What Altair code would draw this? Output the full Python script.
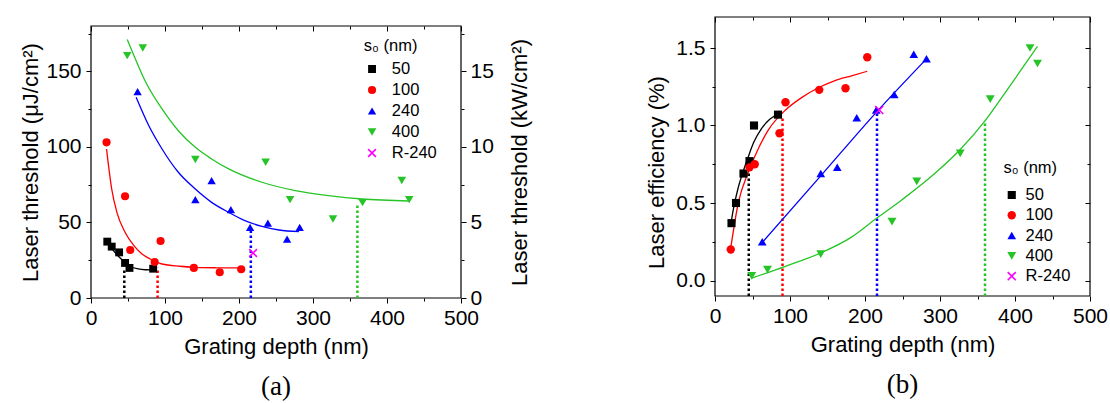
import altair as alt
import pandas as pd

# ------------------------------------------------------------------ data
SERIES = ["50", "100", "240", "400", "R-240"]
COLORS = ["#000000", "#ff0000", "#0000ff", "#26c426", "#ff00ff"]
X_PATH = "M-1,-0.75L0.75,1L1,0.75L-0.75,-1ZM-1,0.75L-0.75,1L1,-0.75L0.75,-1Z"
SHAPES = ["square", "circle", "triangle-up", "triangle-down", X_PATH]
SIZES_A = [62, 78, 150, 150, 150]
SIZES_B = [66, 84, 150, 150, 160]

# measured points (grating depth in nm)
depth_50 = [22, 28, 38, 46, 52, 84]
thr_50 = [37.3, 34.0, 30.2, 23.2, 19.9, 19.4]
eff_50 = [0.37, 0.50, 0.69, 0.77, 1.00, 1.07]

depth_100 = [21, 46, 53, 86, 94, 139, 174, 203]
thr_100 = [103.0, 67.3, 31.8, 23.8, 37.7, 19.9, 17.0, 19.0]
eff_100 = [0.20, 0.73, 0.75, 0.95, 1.15, 1.23, 1.24, 1.44]

depth_240 = [63, 141, 163, 189, 215, 239, 265, 282]
thr_240 = [136.6, 65.1, 77.7, 58.5, 46.8, 49.6, 39.0, 46.8]
eff_240 = [0.25, 0.69, 0.73, 1.05, 1.10, 1.20, 1.46, 1.43]

depth_400 = [49, 70, 141, 236, 269, 327, 367, 420, 430]
thr_400 = [160.4, 165.4, 91.6, 89.8, 65.1, 52.3, 63.1, 77.7, 65.1]
eff_400 = [0.03, 0.07, 0.17, 0.38, 0.64, 0.82, 1.17, 1.50, 1.40]

depth_r240 = [219]
thr_r240 = [29.8]
eff_r240 = [1.10]

# fitted curves
fit_thr_50_x = [22, 28, 37, 46, 53, 64, 73, 83]
fit_thr_50_y = [37.3, 32.9, 27.6, 23.6, 21.0, 19.2, 18.7, 18.6]
fit_thr_100_x = [21, 28, 35, 46, 58, 69, 80, 96, 120, 141, 170, 203]
fit_thr_100_y = [98.6, 72.1, 56.7, 43.5, 34.7, 29.1, 25.8, 22.5, 21.0, 20.3, 20.0, 19.9]
fit_thr_240_x = [61, 78, 96, 118, 141, 163, 186, 208, 231, 254, 281]
fit_thr_240_y = [132.8, 114.1, 98.6, 83.2, 72.1, 63.3, 56.7, 51.2, 47.4, 45.0, 43.9]
fit_thr_400_x = [49, 60, 73, 96, 118, 141, 163, 186, 231, 276, 321, 366, 430]
fit_thr_400_y = [171, 158.1, 143.8, 125.1, 110.7, 99.7, 92.0, 85.4, 76.6, 71.1, 67.8, 65.5, 64.2]

fit_eff_50_x = [21, 24.5, 31, 38, 44.5, 51.5, 62, 73, 83]
fit_eff_50_y = [0.36, 0.46, 0.60, 0.71, 0.80, 0.89, 0.98, 1.04, 1.07]
fit_eff_100_x = [21, 31, 44.5, 53, 71, 94, 115.5, 138.5, 160, 182, 203]
fit_eff_100_y = [0.21, 0.50, 0.70, 0.80, 0.97, 1.10, 1.18, 1.245, 1.29, 1.32, 1.35]
fit_eff_240_x = [62, 141, 215, 282]
fit_eff_240_y = [0.24, 0.675, 1.085, 1.43]
fit_eff_400_x = [49, 93, 142, 182, 215, 249, 293, 326, 360, 391, 430]
fit_eff_400_y = [0.015, 0.09, 0.18, 0.28, 0.40, 0.52, 0.69, 0.84, 1.03, 1.24, 1.51]

# optimum depths (dotted verticals)
opt_series = ["50", "100", "240", "400"]
opt_depth = [45, 90, 216, 360]
opt_thr_top = [19, 20, 46, 62]
opt_eff_top = [0.77, 1.06, 1.08, 1.03]

# axes
DEPTH_DOMAIN = [0, 500]
THR_DOMAIN = [0, 180]
KW_DOMAIN = [0, 18]
EFF_DOMAIN = [-0.1, 1.7]
X_MAJOR = [0, 100, 200, 300, 400, 500]
X_MINOR = [50, 150, 250, 350, 450]
THR_MAJOR = [0, 50, 100, 150]
THR_MINOR = [25, 75, 125, 175]
KW_MAJOR = [0, 5, 10, 15]
KW_MINOR = [2.5, 7.5, 12.5, 17.5]
EFF_MAJOR = [0.0, 0.5, 1.0, 1.5]
EFF_MINOR = [0.25, 0.75, 1.25]

# ------------------------------------------------------------------ tables
def long_table(groups):
    rows = []
    for s, xs, ys in groups:
        for x, y in zip(xs, ys):
            rows.append({"depth": x, "value": y, "series": s})
    return pd.DataFrame(rows)

thr_pts = long_table([("50", depth_50, thr_50), ("100", depth_100, thr_100),
                      ("240", depth_240, thr_240), ("400", depth_400, thr_400),
                      ("R-240", depth_r240, thr_r240)])
eff_pts = long_table([("50", depth_50, eff_50), ("100", depth_100, eff_100),
                      ("240", depth_240, eff_240), ("400", depth_400, eff_400),
                      ("R-240", depth_r240, eff_r240)])
thr_fit = long_table([("50", fit_thr_50_x, fit_thr_50_y), ("100", fit_thr_100_x, fit_thr_100_y),
                      ("240", fit_thr_240_x, fit_thr_240_y), ("400", fit_thr_400_x, fit_thr_400_y)])
eff_fit = long_table([("50", fit_eff_50_x, fit_eff_50_y), ("100", fit_eff_100_x, fit_eff_100_y),
                      ("240", fit_eff_240_x, fit_eff_240_y), ("400", fit_eff_400_x, fit_eff_400_y)])
opt_thr = pd.DataFrame({"depth": opt_depth, "lo": [THR_DOMAIN[0]] * 4, "hi": opt_thr_top, "series": opt_series})
opt_eff = pd.DataFrame({"depth": opt_depth, "lo": [EFF_DOMAIN[0]] * 4, "hi": opt_eff_top, "series": opt_series})

def frame_table(xd, yd):
    return pd.DataFrame({"x0": [xd[0]], "x1": [xd[1]], "y0": [yd[0]], "y1": [yd[1]]})

frame_thr = frame_table(DEPTH_DOMAIN, THR_DOMAIN)
frame_kw = frame_table(DEPTH_DOMAIN, KW_DOMAIN)
frame_eff = frame_table(DEPTH_DOMAIN, EFF_DOMAIN)

# ------------------------------------------------------------------ styling helpers
FONT = "Liberation Sans"
A_W, A_H = 370, 281
A_INSET = 9                     # top of panel (a) frame below panel (b) frame
A_RANGE = [A_H, A_INSET]
B_W, B_H = 375, 279


def axis(orient, values, tick, labels=False, title=None, offset=0, **extra):
    kw = dict(orient=orient, values=values, tickSize=tick, labels=labels, domain=False,
              grid=False, tickColor="black", tickWidth=1, offset=offset)
    if labels:
        kw.update(labelFont=FONT, labelFontSize=21, labelColor="black",
                  labelFlush=False, labelOverlap=False)
    if title:
        kw.update(title=title, titleFont=FONT, titleFontSize=22,
                  titleFontWeight="normal", titleColor="black")
    else:
        kw["title"] = None
    kw.update(extra)
    return alt.Axis(**kw)


def legend(x, y, label_offset, title_pad, row_pad):
    return alt.Legend(orient="none", legendX=x, legendY=y, title="s₀ (nm)",
                      titleFont=FONT, titleFontSize=16.5, titleFontWeight="normal",
                      titleColor="black", titlePadding=title_pad,
                      labelFont=FONT, labelFontSize=16.5, labelColor="black",
                      labelOffset=label_offset, clipHeight=19,
                      rowPadding=row_pad, padding=0)


def per_series(df, mark, yscale, x_axis, y_axis, y_field, y2_field=None, **mark_kw):
    """One layer per series with a fixed colour (no colour scale -> no extra legend)."""
    layers = []
    for i, s in enumerate(opt_series):
        enc = dict(
            x=alt.X("depth:Q", scale=sx, axis=x_axis if i == 0 else None),
            y=alt.Y(f"{y_field}:Q", scale=yscale, axis=y_axis if i == 0 else None),
        )
        if y2_field:
            enc["y2"] = f"{y2_field}:Q"
        base = alt.Chart(df).transform_filter(alt.datum.series == s)
        if mark == "rule":
            layers.append(base.mark_rule(color=COLORS[i], **mark_kw).encode(**enc))
        else:
            layers.append(base.mark_line(color=COLORS[i], **mark_kw).encode(**enc))
    return layers


sx = alt.Scale(domain=DEPTH_DOMAIN, nice=False, zero=False)
color_scale = alt.Scale(domain=SERIES, range=COLORS)
shape_scale = alt.Scale(domain=SERIES, range=SHAPES)

caption_kw = dict(orient="bottom", anchor="middle", font="Liberation Serif",
                  fontSize=27, fontWeight="normal", color="black", baseline="top", offset=17)
rule_kw = dict(strokeWidth=2.5, strokeDash=[2.5, 2.5])
line_kw = dict(strokeWidth=1.3, interpolate="monotone")

# ------------------------------------------------------------------ panel (a)
syA = alt.Scale(domain=THR_DOMAIN, range=A_RANGE, nice=False, zero=False)
skA = alt.Scale(domain=KW_DOMAIN, range=A_RANGE, nice=False, zero=False)
legA = legend(272.8, 21, 11.5, 5, 2)

a_frame = alt.Chart(frame_thr).mark_rect(fillOpacity=0, stroke="black", strokeWidth=1.2).encode(
    x=alt.X("x0:Q", scale=sx, axis=axis("bottom", X_MAJOR, 5, labels=True,
                                        title="Grating depth (nm)", labelPadding=4, titlePadding=8)),
    x2="x1:Q",
    y=alt.Y("y0:Q", scale=syA, axis=axis("left", THR_MAJOR, 5, labels=True,
                                         title="Laser threshold (μJ/cm²)", labelPadding=5, titlePadding=3)),
    y2="y1:Q",
)
a_rules = per_series(opt_thr, "rule", syA, axis("bottom", X_MINOR, 3), axis("left", THR_MINOR, 3),
                     "lo", "hi", **rule_kw)
a_lines = per_series(thr_fit, "line", syA, axis("top", X_MAJOR, 5, offset=-(A_INSET + 5)), None,
                     "value", **line_kw)
a_kw = alt.Chart(frame_kw).mark_rule(opacity=0).encode(
    x=alt.X("x1:Q", scale=sx, axis=axis("top", X_MINOR, 3, offset=-(A_INSET + 3))),
    y=alt.Y("y0:Q", scale=skA, axis=axis("right", KW_MAJOR, 5, labels=True,
                                         title="Laser threshold (kW/cm²)", titleAngle=270,
                                         titleBaseline="top", labelPadding=4, titlePadding=16)),
    y2="y1:Q",
)
a_kw_minor = alt.Chart(frame_kw).mark_rule(opacity=0).encode(
    x=alt.X("x1:Q", scale=sx, axis=None),
    y=alt.Y("y0:Q", scale=skA, axis=axis("right", KW_MINOR, 3)),
    y2="y1:Q",
)
a_points = alt.Chart(thr_pts).mark_point(filled=True, opacity=1).encode(
    x=alt.X("depth:Q", scale=sx, axis=None),
    y=alt.Y("value:Q", scale=syA, axis=None),
    color=alt.Color("series:N", scale=color_scale, legend=legA),
    shape=alt.Shape("series:N", scale=shape_scale, legend=legA),
    size=alt.Size("series:N", scale=alt.Scale(domain=SERIES, range=SIZES_A), legend=legA),
)
panel_a = alt.layer(a_frame, *a_rules, *a_lines, a_kw, a_kw_minor, a_points).resolve_scale(
    y="independent").resolve_axis(x="independent", y="independent").properties(
    width=A_W, height=A_H, title=alt.TitleParams(text="(a)", **caption_kw))

# ------------------------------------------------------------------ panel (b)
syB = alt.Scale(domain=EFF_DOMAIN, nice=False, zero=False)
legB = legend(288.5, 143, 5.5, 9, 1.3)

b_frame = alt.Chart(frame_eff).mark_rect(fillOpacity=0, stroke="black", strokeWidth=1.2).encode(
    x=alt.X("x0:Q", scale=sx, axis=axis("bottom", X_MAJOR, 5, labels=True,
                                        title="Grating depth (nm)", labelPadding=4, titlePadding=8)),
    x2="x1:Q",
    y=alt.Y("y0:Q", scale=syB, axis=axis("left", EFF_MAJOR, 5, labels=True, format=".1f",
                                         title="Laser efficiency (%)", labelPadding=5,
                                         titlePadding=7, titleY=155)),
    y2="y1:Q",
)
b_rules = per_series(opt_eff, "rule", syB, axis("bottom", X_MINOR, 3), axis("left", EFF_MINOR, 3),
                     "lo", "hi", **rule_kw)
b_lines = per_series(eff_fit, "line", syB, axis("top", X_MAJOR, 5, offset=-5),
                     axis("right", EFF_MAJOR, 5, offset=-5), "value", **line_kw)
b_points = alt.Chart(eff_pts).mark_point(filled=True, opacity=1).encode(
    x=alt.X("depth:Q", scale=sx, axis=axis("top", X_MINOR, 3, offset=-3)),
    y=alt.Y("value:Q", scale=syB, axis=axis("right", EFF_MINOR, 3, offset=-3)),
    color=alt.Color("series:N", scale=color_scale, legend=legB),
    shape=alt.Shape("series:N", scale=shape_scale, legend=legB),
    size=alt.Size("series:N", scale=alt.Scale(domain=SERIES, range=SIZES_B), legend=legB),
)
panel_b = alt.layer(b_frame, *b_rules, *b_lines, b_points).resolve_axis(
    x="independent", y="independent").properties(
    width=B_W, height=B_H, title=alt.TitleParams(text="(b)", **caption_kw))

# ------------------------------------------------------------------ figure
chart = alt.hconcat(panel_a, panel_b, spacing=254, bounds="flush").resolve_scale(
    color="independent", shape="independent", size="independent").resolve_legend(
    color="independent", shape="independent", size="independent").properties(
    padding={"left": 19, "top": 15, "right": 0, "bottom": 0},
    background="white").configure_view(stroke="transparent")

chart.save("out.html", embed_options={"renderer": "svg", "actions": False})
